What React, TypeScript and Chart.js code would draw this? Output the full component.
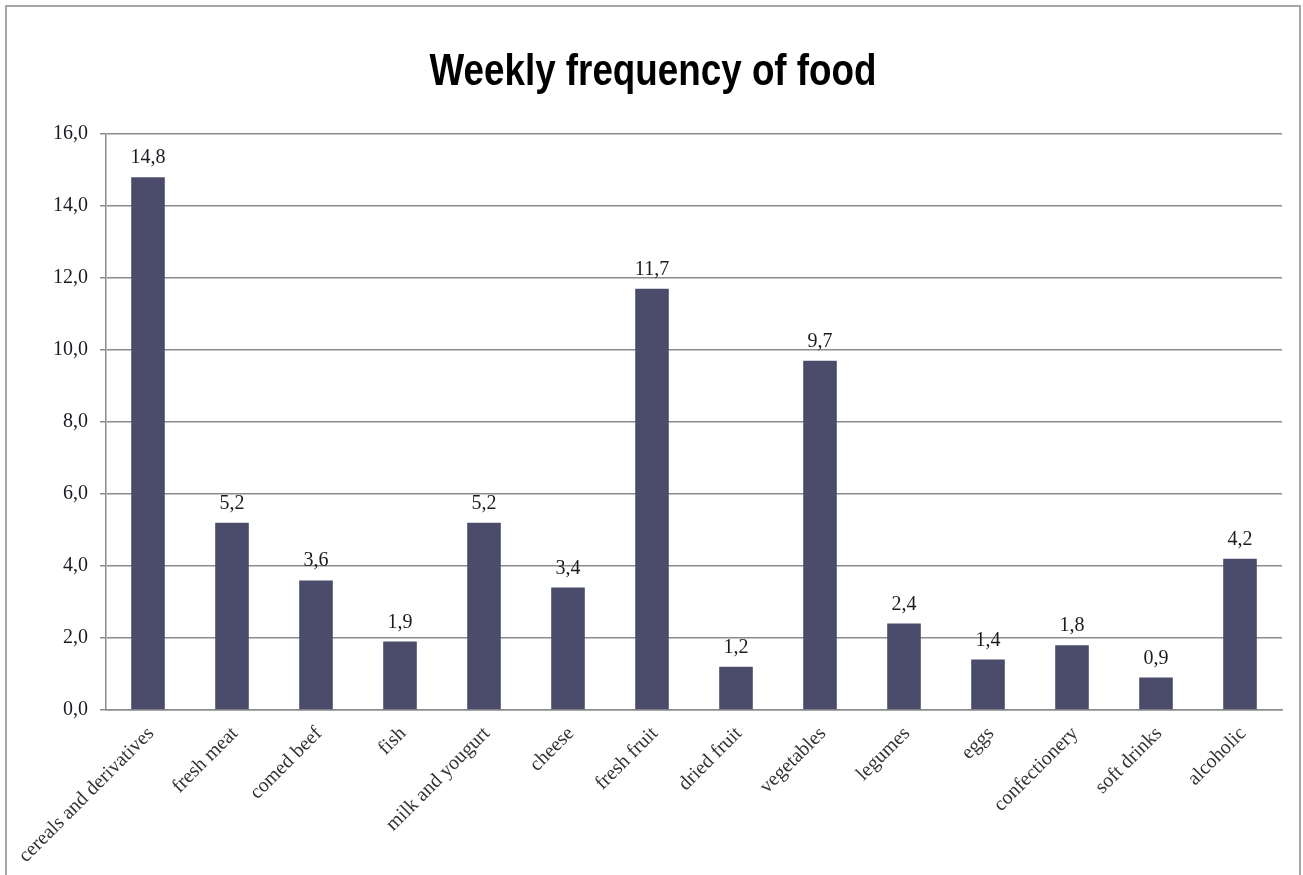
import React, { useEffect, useRef } from "react";
import { Chart, registerables } from "chart.js";

Chart.register(...registerables);

const categories = [
  "cereals and derivatives",
  "fresh meat",
  "comed beef",
  "fish",
  "milk and yougurt",
  "cheese",
  "fresh fruit",
  "dried fruit",
  "vegetables",
  "legumes",
  "eggs",
  "confectionery",
  "soft drinks",
  "alcoholic",
];

const weeklyFrequency = [14.8, 5.2, 3.6, 1.9, 5.2, 3.4, 11.7, 1.2, 9.7, 2.4, 1.4, 1.8, 0.9, 4.2];

const titleText = "Weekly frequency of food";
const yMin = 0;
const yMax = 16;
const yStep = 2;

const SERIF = "'Liberation Serif', 'Times New Roman', serif";

const fmt = (v: number) => v.toFixed(1).replace(".", ",");

const valueLabels = {
  id: "valueLabels",
  afterDatasetsDraw(chart: any) {
    const ctx = chart.ctx;
    const meta = chart.getDatasetMeta(0);
    ctx.save();
    ctx.font = `20px ${SERIF}`;
    ctx.fillStyle = "#1a1a22";
    ctx.textAlign = "center";
    ctx.textBaseline = "alphabetic";
    meta.data.forEach((el: any, i: number) => {
      ctx.fillText(fmt(weeklyFrequency[i]), el.x, el.y - 14);
    });
    ctx.restore();
  },
};

const narrowTitle = {
  id: "narrowTitle",
  afterDraw(chart: any) {
    const ctx = chart.ctx;
    ctx.save();
    ctx.font = "bold 45px 'Liberation Sans', Arial, sans-serif";
    ctx.fillStyle = "#000";
    ctx.textAlign = "center";
    ctx.textBaseline = "alphabetic";
    const w = ctx.measureText(titleText).width;
    const sx = 447 / w;
    ctx.translate(653, 85);
    ctx.scale(sx, 1);
    ctx.fillText(titleText, 0, 0);
    ctx.restore();
  },
};

export default function App() {
  const ref = useRef<HTMLCanvasElement | null>(null);

  useEffect(() => {
    if (!ref.current) return;
    const chart = new Chart(ref.current, {
      type: "bar",
      data: {
        labels: categories,
        datasets: [
          {
            data: weeklyFrequency,
            backgroundColor: "#4b4b6b",
            borderWidth: 0,
            categoryPercentage: 0.8,
            barPercentage: 0.5,
          },
        ],
      },
      options: {
        responsive: false,
        animation: false,
        devicePixelRatio: 1,
        layout: { padding: { left: 10, right: 21, top: 134, bottom: 0 } },
        plugins: {
          legend: { display: false },
          tooltip: { enabled: false },
          title: { display: false },
        },
        scales: {
          y: {
            min: yMin,
            max: yMax,
            ticks: {
              stepSize: yStep,
              callback: (v: any) => fmt(Number(v)),
              font: { family: SERIF, size: 20 },
              color: "#1a1a22",
              padding: 12,
            },
            grid: { color: "#8c8c8c", lineWidth: 1.5, tickLength: 6 },
            border: { color: "#8c8c8c", width: 1.5 },
            afterFit: (s: any) => {
              s.width = 96;
            },
          },
          x: {
            grid: { display: false },
            border: { color: "#8c8c8c", width: 1.5 },
            ticks: {
              maxRotation: 45,
              minRotation: 45,
              autoSkip: false,
              font: { family: SERIF, size: 20 },
              color: "#333",
              padding: 4,
              labelOffset: 3,
            },
            afterFit: (s: any) => {
              s.height = 165;
            },
          },
        },
      },
      plugins: [valueLabels, narrowTitle],
    });
    return () => chart.destroy();
  }, []);

  return (
    <div style={{ position: "absolute", left: 0, top: 0, width: 1303, height: 875, background: "#fff", overflow: "hidden" }}>
      <div
        style={{
          position: "absolute",
          left: 5,
          top: 5,
          width: 1296,
          height: 890,
          border: "2px solid #a6a6a6",
          boxSizing: "border-box",
        }}
      />
      <canvas ref={ref} width={1303} height={875} style={{ position: "absolute", left: 0, top: 0, width: 1303, height: 875 }} />
    </div>
  );
}
